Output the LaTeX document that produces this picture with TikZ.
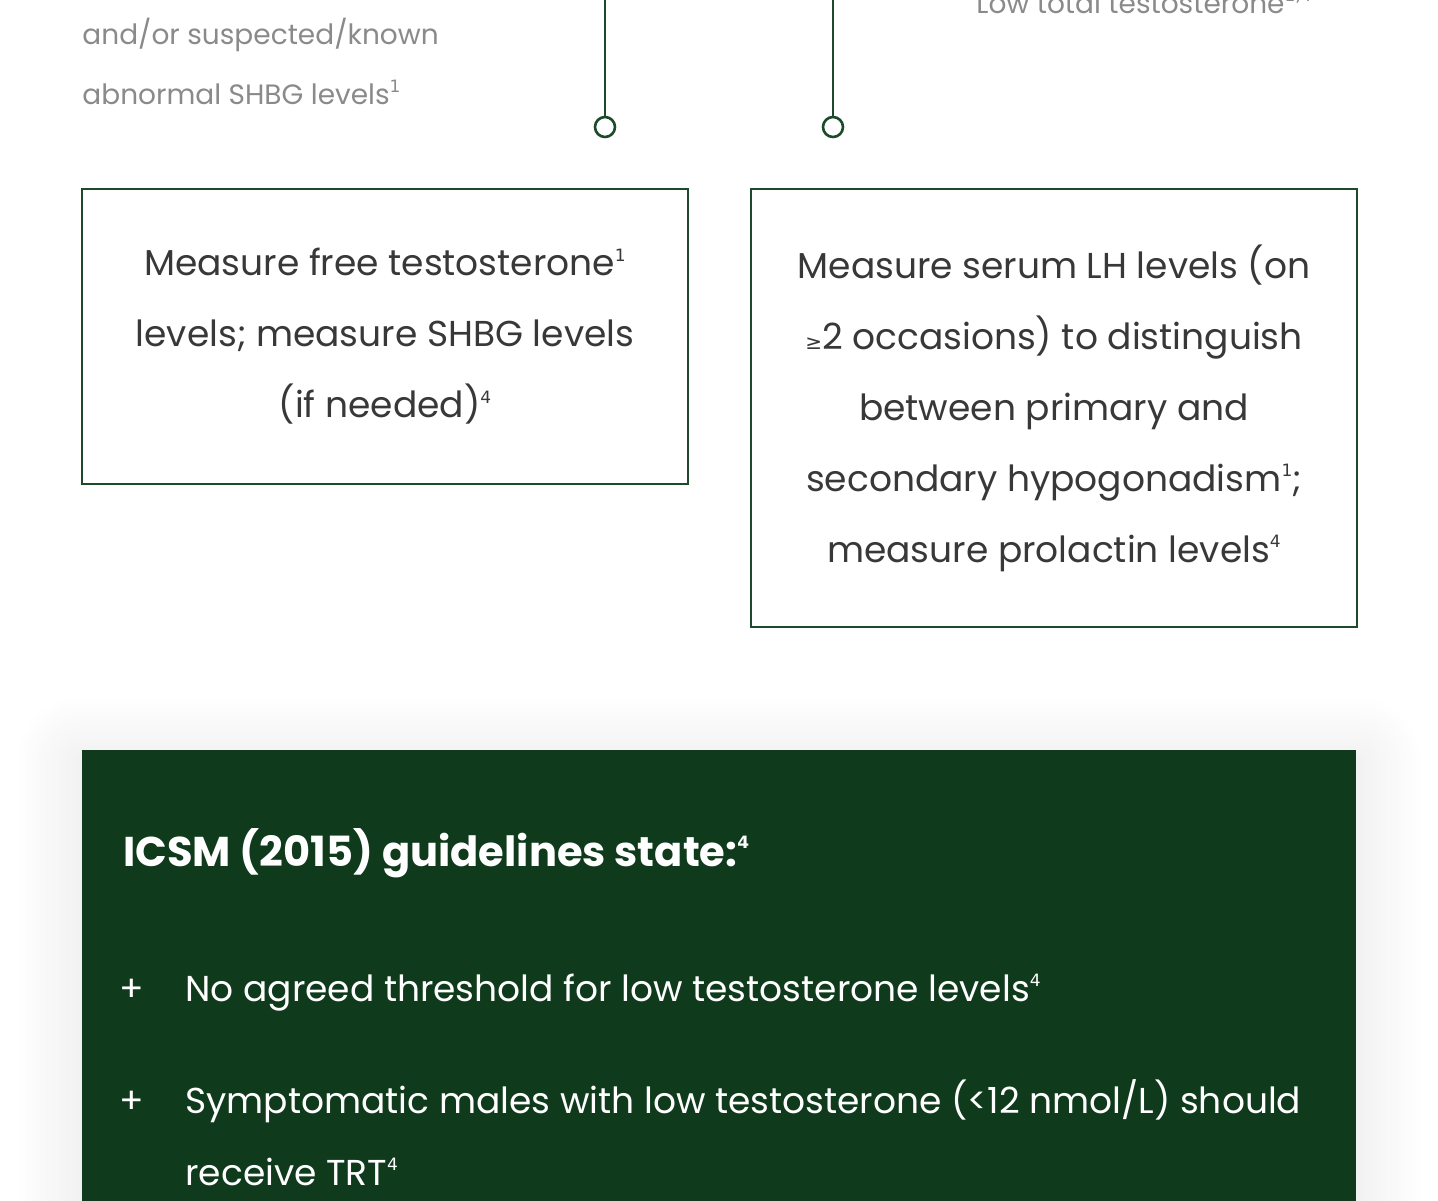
\documentclass[tikz,border=0pt]{standalone}
\usepackage{fontspec}
\setmainfont{Poppins}
\newfontfamily\symfont{DejaVu Sans}
\usetikzlibrary{shadows.blur}

\definecolor{forest}{HTML}{0F3A1B}
\definecolor{frame}{HTML}{1D4A2B}
\definecolor{ink}{HTML}{383838}
\definecolor{mute}{HTML}{8A8A8A}

% small reference numbers
\newcommand\refnum[1]{\raisebox{0.75ex}{\symfont\fontsize{8.5pt}{8.5pt}\selectfont #1}}

\begin{document}
\begin{tikzpicture}[
    x=0.5pt,
    y=-0.5pt,
    stem/.style={
        draw=frame,
        line width=1.3pt
    },
    knob/.style={
        circle,
        draw=frame,
        line width=1.3pt,
        fill=white,
        minimum size=10pt,
        inner sep=0pt
    },
    stepbox/.style={
        draw=frame,
        line width=1pt,
        align=center,
        text=ink,
        inner sep=0pt,
        font=\fontsize{18pt}{35.5pt}\selectfont
    },
    note/.style={
        anchor=base west,
        text=mute,
        inner sep=0pt,
        font=\fontsize{14pt}{14pt}\selectfont
    },
    panel/.style={
        fill=forest,
        draw=none,
        blur shadow={shadow xshift=0pt, shadow yshift=-6pt,
            shadow blur radius=34pt, shadow blur steps=24,
            shadow opacity=11}
    },
    heading/.style={
        anchor=base west,
        text=white,
        inner sep=0pt,
        font=\bfseries\fontsize{20.8pt}{20.8pt}\selectfont
    },
    plusmark/.style={
        anchor=base,
        text=white,
        inner sep=0pt,
        font=\fontsize{18pt}{18pt}\selectfont
    },
    point/.style={
        anchor=base west,
        text=white,
        inner sep=0pt,
        font=\fontsize{18pt}{18pt}\selectfont
    }
]

\useasboundingbox (0,0) rectangle (1438,1200);

% =====================================================
% Upper texts (cut by the page)
% =====================================================

\node[note] (noteL1) at (82,44) {and/or suspected/known};
\node[note] (noteL2) at (82,104) {abnormal SHBG levels\refnum{1}};
\node[note] (noteR) at (976,13) {Low total testosterone\refnum{1,4}};

% =====================================================
% Incoming stems
% =====================================================

\coordinate (stemLtop) at (605,-20);
\coordinate (stemRtop) at (833,-20);

\node[knob] (stemLend) at (605,127) {};
\node[knob] (stemRend) at (833,127) {};

\draw[stem] (stemLtop) -- (stemLend);
\draw[stem] (stemRtop) -- (stemRend);

% =====================================================
% Boxes
% =====================================================

\node[stepbox, minimum width=303pt, minimum height=147.5pt] (freeT) at (385,336.5)
    {Measure free testosterone\refnum{1}\\
     levels; measure SHBG levels\\
     (if needed)\refnum{4}};

\node[stepbox, minimum width=303pt, minimum height=219pt] (serumLH) at (1054,408)
    {Measure serum LH levels (on\\
     {\symfont\fontsize{10pt}{10pt}\selectfont ≥}2 occasions) to distinguish\\
     between primary and\\
     secondary hypogonadism\refnum{1};\\
     measure prolactin levels\refnum{4}};

% =====================================================
% ICSM panel
% =====================================================

\path[panel] (82,750) rectangle (1356,1260);

\node[heading] (icsm) at (123,866) {ICSM (2015) guidelines state:\refnum{4}};

\node[plusmark] (plusA) at (132,1001) {+};
\node[point] (pointA) at (185,1001) {No agreed threshold for low testosterone levels\refnum{4}};

\node[plusmark] (plusB) at (132,1113) {+};
\node[point] (pointB) at (185,1113) {Symptomatic males with low testosterone (<12 nmol/L) should};
\node[point] (pointBb) at (185,1185) {receive TRT\refnum{4}};

\end{tikzpicture}
\end{document}
